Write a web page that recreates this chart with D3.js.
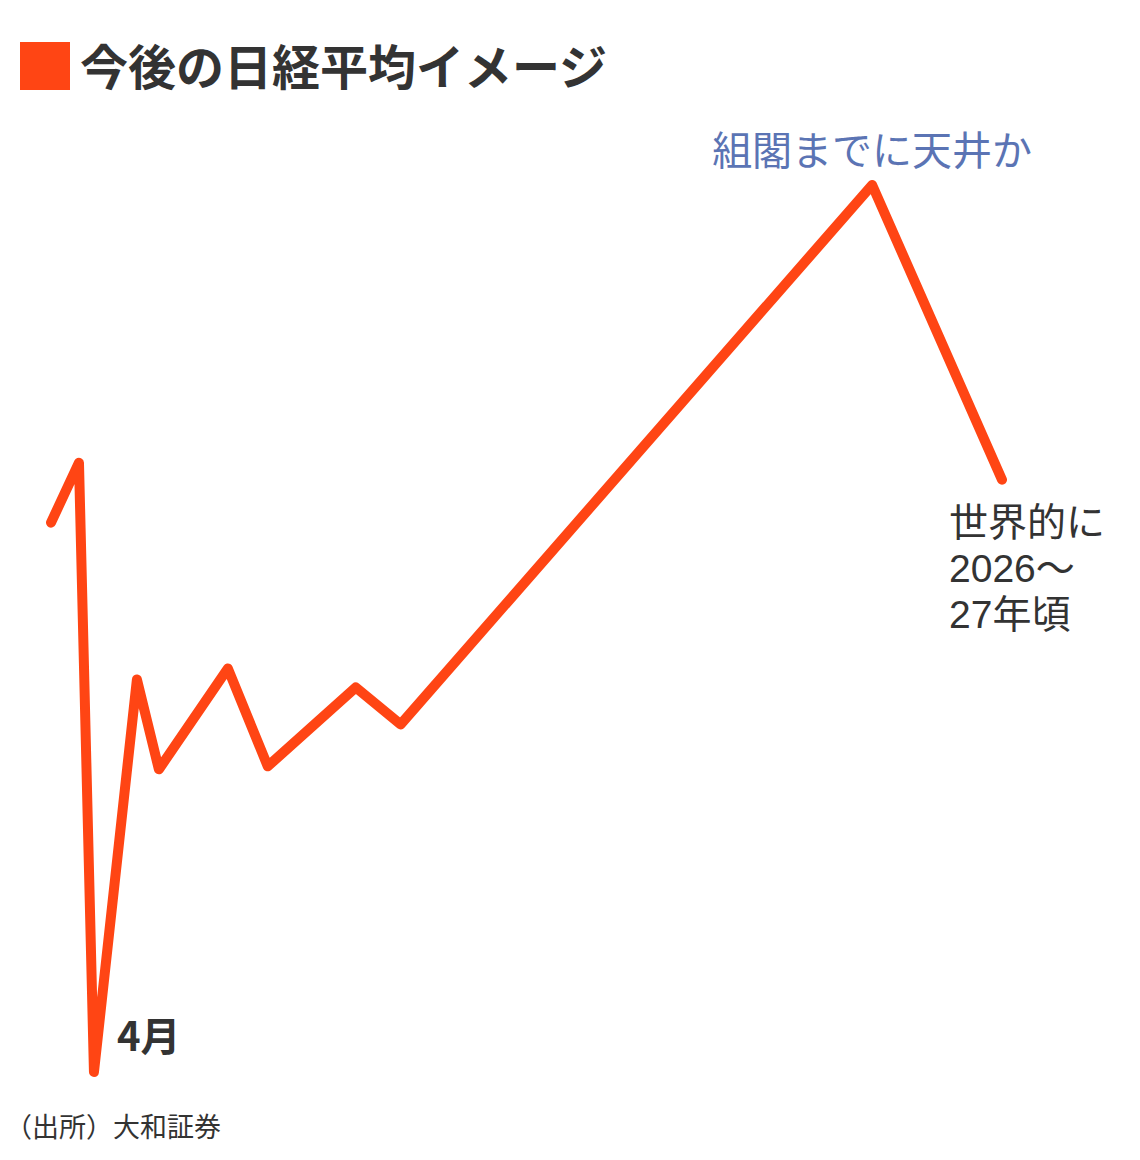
<!DOCTYPE html>
<html>
<head>
<meta charset="utf-8">
<script src="https://cdn.jsdelivr.net/npm/d3@7"></script>
<style>
  body { margin: 0; background: #fff; }
  text { font-family: "Noto Sans CJK JP", "Noto Sans", sans-serif; }
  text.endnote { font-family: "Liberation Sans", "Noto Sans CJK JP", sans-serif; }
</style>
</head>
<body>
<script>
    // Image of future Nikkei path (relative positions only, no real axis)
    const steps = [0, 28, 43, 86, 108, 177, 217, 305, 350, 822, 952];
    const levels = [550, 610, 0, 393, 303, 404, 306, 385, 348, 888, 593];
    const endNoteLines = ["世界的に", "2026～", "27年頃"];

    const width = 1140;
    const height = 1160;

    const svg = d3.select("body")
      .append("svg")
      .attr("width", width)
      .attr("height", height);

    const x = d3.scaleLinear().domain([0, 952]).range([51, 1002]);
    const y = d3.scaleLinear().domain([0, 888]).range([1072, 185]);

    // Title with square marker
    svg.append("rect")
      .attr("x", 20).attr("y", 42)
      .attr("width", 50).attr("height", 48)
      .attr("fill", "#ff4514");

    svg.append("text")
      .attr("x", 80).attr("y", 85)
      .attr("font-size", 48)
      .attr("font-weight", "bold")
      .attr("fill", "#333")
      .text("今後の日経平均イメージ");

    // The line
    const line = d3.line()
      .x((d, i) => x(steps[i]))
      .y(d => y(d));

    svg.append("path")
      .datum(levels)
      .attr("d", line)
      .attr("fill", "none")
      .attr("stroke", "#ff4514")
      .attr("stroke-width", 10)
      .attr("stroke-linecap", "round")
      .attr("stroke-linejoin", "round");

    // Annotations
    svg.append("text")
      .attr("x", x(822)).attr("y", 165)
      .attr("text-anchor", "middle")
      .attr("font-size", 40)
      .attr("fill", "#5b74b4")
      .text("組閣までに天井か");

    svg.selectAll("text.endnote")
      .data(endNoteLines)
      .enter()
      .append("text")
      .attr("class", "endnote")
      .attr("x", 949)
      .attr("y", (d, i) => 536 + i * 46)
      .attr("font-size", 39)
      .attr("fill", "#333")
      .text(d => d);

    svg.append("text")
      .attr("x", 117).attr("y", 1051)
      .attr("font-size", 40)
      .attr("font-weight", "bold")
      .attr("fill", "#333")
      .text("4月");

    // Source
    svg.append("text")
      .attr("x", 5).attr("y", 1137)
      .attr("font-size", 27)
      .attr("fill", "#333")
      .text("（出所）大和証券");
</script>
</body>
</html>
